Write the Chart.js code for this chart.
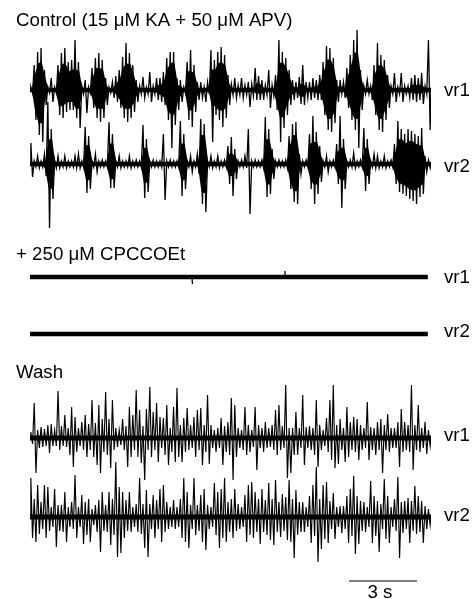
<!DOCTYPE html>
<html>
<head>
<meta charset="utf-8">
<script src="https://cdn.jsdelivr.net/npm/chart.js@4.4.1/dist/chart.umd.min.js"></script>
<style>
html,body{margin:0;padding:0;background:#fff;}
canvas{display:block;}
</style>
</head>
<body>
<canvas id="c" width="474" height="599"></canvas>
<script>
// ---------------- DATA ----------------
const binSeconds = 0.15;      // width of one amplitude bin (s)
const sweepSeconds = 17.7;    // length of each sweep (s)
const panelTitles = ['Control (15 \u03BCM KA + 50 \u03BCM APV)', '+ 250 \u03BCM CPCCOEt', 'Wash'];
const traceNames = ['vr1', 'vr2'];
const scaleBarSeconds = 3;
const scaleBarLabel = '3 s';
const scaleBarStart = 14.08;  // s

// Control: peak upward / downward excursion per bin (arbitrary units)
const ctrlVr1Up = [
 3,25,38,42,20,3,12,3,25,37,
 42,28,30,50,28,4,10,3,22,32,
 37,30,12,3,8,14,20,33,47,37,
 25,10,4,13,3,18,4,12,12,18,
 32,38,38,12,10,3,28,40,25,8,
 8,3,8,40,30,38,43,35,15,6,
 12,5,12,5,8,6,22,14,10,5,
 20,5,15,50,38,32,20,10,8,13,
 25,8,8,12,10,15,28,44,42,32,
 10,10,8,22,35,50,60,20,4,10,
 4,25,47,35,30,15,4,17,3,17,
 4,4,12,15,12,17,4,50];
const ctrlVr1Down = [
 3,30,45,52,15,3,12,3,25,28,
 22,20,20,28,38,4,23,3,18,28,
 32,28,15,3,8,12,18,28,32,28,
 22,12,4,8,4,12,4,10,12,15,
 30,58,35,20,12,3,30,37,22,10,
 8,12,4,52,25,30,37,28,15,5,
 8,5,8,5,17,6,10,10,10,5,
 18,6,20,52,38,25,15,10,8,14,
 15,8,10,8,10,10,25,40,42,33,
 12,4,8,18,30,40,58,20,4,4,
 10,25,40,42,30,18,4,12,4,12,
 4,8,10,12,10,14,4,40];
const ctrlVr2Up = [
 21,3,8,3,10,62,35,4,8,3,
 8,3,3,8,10,3,37,28,3,10,
 3,4,3,42,30,3,8,3,3,8,
 3,4,3,39,25,3,4,3,3,30,
 3,4,3,3,43,30,3,8,3,10,
 45,40,3,8,3,8,3,4,18,27,
 15,3,4,8,35,3,4,3,4,47,
 35,15,3,4,3,4,28,40,42,10,
 3,4,30,48,32,18,3,8,3,4,
 20,48,25,3,4,11,3,4,36,25,
 3,10,8,3,8,3,4,20,43,35,
 30,35,33,30,28,36,8,4];
const ctrlVr2Down = [
 13,3,4,3,12,64,35,4,4,3,
 4,3,3,4,4,3,29,25,3,8,
 3,3,3,24,24,3,4,3,3,4,
 3,3,3,34,28,3,3,3,3,36,
 3,3,3,3,32,25,3,8,3,10,
 40,48,3,4,3,4,3,3,20,32,
 15,3,3,4,50,3,3,3,4,33,
 30,15,3,3,3,4,25,38,40,10,
 3,3,25,40,30,18,3,8,3,3,
 20,44,25,3,3,4,3,3,27,20,
 3,4,4,3,4,3,3,20,28,30,
 32,35,37,40,33,30,8,4];

// + CPCCOEt: almost silent, only two tiny deflections on vr1
const cpcVr1SpikeTimes = [7.15, 11.25];
const cpcVr1SpikeUp = [0, 6];
const cpcVr1SpikeDown = [7, 0];

// Wash
const washVr1Up = [
 6,35,8,11,9,13,14,8,47,12,
 23,10,31,21,10,16,23,14,38,15,
 33,19,46,19,38,10,8,19,12,31,
 23,48,28,12,29,51,26,35,21,20,
 33,10,31,50,13,20,30,13,21,28,
 30,13,43,13,8,10,20,12,16,40,
 33,10,8,31,13,8,31,13,10,16,
 10,13,28,33,12,53,10,10,26,10,
 43,11,12,10,38,13,8,20,38,53,
 13,19,10,31,16,21,19,13,10,36,
 11,10,16,19,13,24,10,10,16,29,
 16,13,53,13,33,10,16,8];
const washVr1Down = [
 6,35,10,9,8,15,8,8,12,8,
 9,17,29,14,8,12,19,12,19,27,
 35,14,17,30,12,9,7,12,29,19,
 12,19,25,42,12,19,12,24,10,17,
 27,14,24,19,24,14,12,10,19,12,
 27,14,26,10,14,10,27,14,17,42,
 19,10,12,17,14,9,32,10,14,10,
 9,12,17,12,10,40,35,17,17,10,
 27,10,12,17,29,12,8,14,22,30,
 26,12,24,19,12,14,22,12,10,22,
 12,17,12,35,12,14,10,10,29,14,
 12,14,32,12,14,10,16,8];
const washVr2Up = [
 39,18,32,15,32,30,10,28,12,12,
 25,10,15,42,10,22,15,18,8,12,
 17,25,12,25,18,55,30,25,17,25,
 10,13,39,13,27,13,22,17,28,32,
 15,10,17,10,18,39,25,12,39,12,
 22,28,12,10,34,25,28,39,15,18,
 28,13,10,22,32,35,25,18,28,17,
 34,18,37,15,23,20,37,18,27,15,
 15,10,21,32,50,18,32,35,16,24,
 10,11,11,21,28,41,21,16,15,10,
 36,21,16,13,38,21,10,18,40,15,
 16,19,16,31,21,16,11,8];
const washVr2Down = [
 21,25,17,12,21,14,10,30,14,15,
 25,10,12,21,10,27,18,25,8,15,
 35,14,15,28,18,40,36,21,14,15,
 10,15,17,31,40,12,21,12,25,15,
 12,10,12,10,21,25,31,12,18,14,
 25,33,12,10,18,31,21,25,15,21,
 14,12,10,25,18,21,15,27,15,18,
 23,28,15,20,14,23,25,41,18,15,
 15,10,26,19,45,32,22,26,12,22,
 10,16,12,26,19,37,27,14,15,10,
 26,19,35,12,22,26,10,14,41,16,
 12,26,14,17,15,26,12,8];

// ---------------- LAYOUT (pixel-like vertical units, axis reversed) ----------------
const BASE = { ctrl1: 90, ctrl2: 164, cpc1: 277, cpc2: 334, wash1: 438, wash2: 517 };
const LABEL_Y = { ctrl1: 96, ctrl2: 172, cpc1: 283, cpc2: 337, wash1: 441, wash2: 521 };
const TITLE_Y = [26, 260, 378];
const QUIET_END = 17.56;
const CORE_FLOOR = 6;     // isolated small spikes get no solid burst core
const CORE_SHARE = 0.85;  // solid core slightly inside the spike tips

function zigzag(up, down, base) {
  const pts = [{ x: 0, y: base }];
  up.forEach((u, i) => {
    pts.push({ x: (i + 0.25) * binSeconds, y: base - u });
    pts.push({ x: (i + 0.75) * binSeconds, y: base + down[i] });
  });
  pts.push({ x: sweepSeconds, y: base });
  return pts;
}
// solid core of a burst: only where neighbouring bins are also active
function envelope(vals, base, sign) {
  const pts = [{ x: 0, y: base }];
  vals.forEach((v, i) => {
    const nb = Math.max(i > 0 ? vals[i - 1] : 0, i < vals.length - 1 ? vals[i + 1] : 0);
    const core = Math.max(0, Math.min(v, nb) - CORE_FLOOR) * CORE_SHARE;
    pts.push({ x: (i + 0.5) * binSeconds, y: base + sign * core });
  });
  pts.push({ x: sweepSeconds, y: base });
  return pts;
}
function spikes(times, up, down, base) {
  const pts = [];
  times.forEach((t, i) => {
    pts.push({ x: t, y: base - up[i] });
    pts.push({ x: t + 0.02, y: base + down[i] });
    pts.push({ x: t + 0.03, y: null });
  });
  return pts;
}
function band(base, end) {
  return [{ x: 0, y: base }, { x: end, y: base }];
}
const traceStyle = { borderColor: '#000', borderWidth: 1.3, pointRadius: 0, tension: 0, fill: false };
const washStyle = { borderColor: '#000', borderWidth: 1.15, pointRadius: 0, tension: 0, fill: false };
const bandStyle = { borderColor: '#000', borderWidth: 4.5, pointRadius: 0, tension: 0, fill: false, borderCapStyle: 'butt' };
const envTop = { borderWidth: 0, borderColor: 'rgba(0,0,0,0)', pointRadius: 0, tension: 0, fill: false };
const envBottom = { borderWidth: 0, borderColor: 'rgba(0,0,0,0)', backgroundColor: '#000', pointRadius: 0, tension: 0, fill: '-1' };

const datasets = [
  Object.assign({ label: 'Control vr1 core top', data: envelope(ctrlVr1Up, BASE.ctrl1, -1) }, envTop),
  Object.assign({ label: 'Control vr1 core', data: envelope(ctrlVr1Down, BASE.ctrl1, 1) }, envBottom),
  Object.assign({ label: 'Control vr1 baseline', data: band(BASE.ctrl1, sweepSeconds) }, bandStyle),
  Object.assign({ label: 'Control vr1', data: zigzag(ctrlVr1Up, ctrlVr1Down, BASE.ctrl1) }, traceStyle),
  Object.assign({ label: 'Control vr2 core top', data: envelope(ctrlVr2Up, BASE.ctrl2, -1) }, envTop),
  Object.assign({ label: 'Control vr2 core', data: envelope(ctrlVr2Down, BASE.ctrl2, 1) }, envBottom),
  Object.assign({ label: 'Control vr2 baseline', data: band(BASE.ctrl2, sweepSeconds) }, bandStyle),
  Object.assign({ label: 'Control vr2', data: zigzag(ctrlVr2Up, ctrlVr2Down, BASE.ctrl2) }, traceStyle),
  Object.assign({ label: 'CPCCOEt vr1 baseline', data: band(BASE.cpc1, QUIET_END) }, bandStyle),
  Object.assign({ label: 'CPCCOEt vr1', data: spikes(cpcVr1SpikeTimes, cpcVr1SpikeUp, cpcVr1SpikeDown, BASE.cpc1), spanGaps: false }, traceStyle),
  Object.assign({ label: 'CPCCOEt vr2 baseline', data: band(BASE.cpc2, QUIET_END) }, bandStyle),
  Object.assign({ label: 'Wash vr1 baseline', data: band(BASE.wash1, sweepSeconds) }, bandStyle, { borderWidth: 5 }),
  Object.assign({ label: 'Wash vr1', data: zigzag(washVr1Up, washVr1Down, BASE.wash1) }, washStyle),
  Object.assign({ label: 'Wash vr2 baseline', data: band(BASE.wash2, sweepSeconds) }, bandStyle, { borderWidth: 5 }),
  Object.assign({ label: 'Wash vr2', data: zigzag(washVr2Up, washVr2Down, BASE.wash2) }, washStyle)
];

const FONT = '18.7px "Liberation Sans", Arial, Helvetica, sans-serif';
const textPlugin = {
  id: 'figureText',
  afterDraw(chart) {
    const ctx = chart.ctx;
    const xs = chart.scales.x;
    ctx.save();
    ctx.fillStyle = '#000';
    ctx.font = FONT;
    ctx.textBaseline = 'alphabetic';
    ctx.textAlign = 'left';
    panelTitles.forEach((t, i) => ctx.fillText(t, 16, TITLE_Y[i]));
    const labelX = 444;
    ctx.fillText(traceNames[0], labelX, LABEL_Y.ctrl1);
    ctx.fillText(traceNames[1], labelX, LABEL_Y.ctrl2);
    ctx.fillText(traceNames[0], labelX, LABEL_Y.cpc1);
    ctx.fillText(traceNames[1], labelX, LABEL_Y.cpc2);
    ctx.fillText(traceNames[0], labelX, LABEL_Y.wash1);
    ctx.fillText(traceNames[1], labelX, LABEL_Y.wash2);
    // scale bar
    const x1 = xs.getPixelForValue(scaleBarStart);
    const x2 = xs.getPixelForValue(scaleBarStart + scaleBarSeconds);
    ctx.strokeStyle = '#000';
    ctx.lineWidth = 1.2;
    ctx.beginPath();
    ctx.moveTo(x1, 581);
    ctx.lineTo(x2, 581);
    ctx.stroke();
    ctx.textAlign = 'center';
    ctx.fillText(scaleBarLabel, (x1 + x2) / 2 - 3, 598);
    ctx.restore();
  }
};

new Chart(document.getElementById('c'), {
  type: 'line',
  data: { datasets },
  options: {
    responsive: false,
    animation: false,
    events: [],
    layout: { padding: { left: 30, right: 43, top: 0, bottom: 0 } },
    plugins: { legend: { display: false }, tooltip: { enabled: false }, filler: { propagate: false } },
    scales: {
      x: { type: 'linear', min: 0, max: sweepSeconds, display: false },
      y: { type: 'linear', min: 0, max: 599, reverse: true, display: false }
    }
  },
  plugins: [textPlugin]
});
</script>
</body>
</html>
